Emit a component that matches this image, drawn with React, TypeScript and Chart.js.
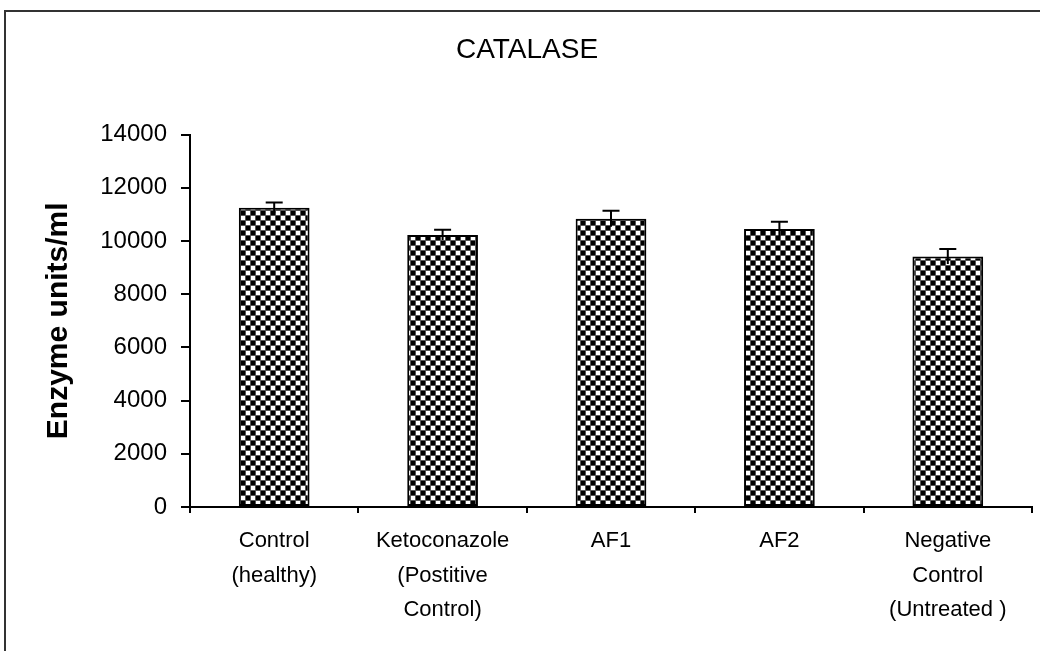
import React, { useEffect, useRef } from "react";
import { Chart, registerables } from "chart.js";

Chart.register(...registerables);

const categories: string[][] = [
  ["Control", "(healthy)"],
  ["Ketoconazole", "(Postitive", "Control)"],
  ["AF1"],
  ["AF2"],
  ["Negative", "Control", "(Untreated )"],
];
const catalaseValues: number[] = [11250, 10230, 10840, 10450, 9420];
const catalaseErrors: number[] = [200, 190, 300, 270, 280];
const yTicks: number[] = [0, 2000, 4000, 6000, 8000, 10000, 12000, 14000];

const FONT = "'Liberation Sans', Arial, sans-serif";

function makePattern(): CanvasPattern | string {
  const c = document.createElement("canvas");
  c.width = 10;
  c.height = 10;
  const g = c.getContext("2d");
  if (!g) return "#777";
  g.fillStyle = "#555";
  g.fillRect(0, 0, 10, 10);
  g.fillStyle = "#000";
  g.fillRect(1, 1, 4, 4);
  g.fillRect(6, 6, 4, 4);
  g.fillStyle = "#fff";
  g.fillRect(6, 1, 4, 4);
  g.fillRect(1, 6, 4, 4);
  const ctx = document.createElement("canvas").getContext("2d");
  const p = ctx ? ctx.createPattern(c, "repeat") : null;
  return p || "#777";
}

const errorBarPlugin = {
  id: "errorBars",
  afterDatasetsDraw(chart: any) {
    const { ctx } = chart;
    const meta = chart.getDatasetMeta(0);
    const yScale = chart.scales.y;
    ctx.save();
    ctx.strokeStyle = "#000";
    ctx.lineWidth = 2;
    meta.data.forEach((bar: any, i: number) => {
      const v = catalaseValues[i];
      const e = catalaseErrors[i];
      const yTop = yScale.getPixelForValue(v + e);
      const yBot = yScale.getPixelForValue(v - e);
      const x = bar.x;
      ctx.beginPath();
      ctx.moveTo(x, yBot);
      ctx.lineTo(x, yTop);
      ctx.moveTo(x - 8.5, yTop);
      ctx.lineTo(x + 8.5, yTop);
      ctx.stroke();
    });
    ctx.restore();
  },
};

const framePlugin = {
  id: "frame",
  afterDraw(chart: any) {
    const { ctx, width, height } = chart;
    ctx.save();
    ctx.strokeStyle = "#333";
    ctx.lineWidth = 2;
    ctx.beginPath();
    ctx.moveTo(5, height);
    ctx.lineTo(5, 11);
    ctx.lineTo(width, 11);
    ctx.stroke();
    ctx.restore();
  },
};

export default function App() {
  const ref = useRef<HTMLCanvasElement | null>(null);

  useEffect(() => {
    if (!ref.current) return;
    const pattern = makePattern();
    const chart = new Chart(ref.current, {
      type: "bar",
      data: {
        labels: categories,
        datasets: [
          {
            label: "Catalase",
            data: catalaseValues,
            backgroundColor: pattern as any,
            borderColor: "#000",
            borderWidth: 2,
            borderSkipped: false,
            barPercentage: 0.42,
            categoryPercentage: 1,
          },
        ],
      },
      options: {
        responsive: false,
        animation: false,
        layout: { padding: { left: 22, right: 8, top: 0, bottom: 0 } },
        plugins: {
          legend: { display: false },
          tooltip: { enabled: false },
          title: {
            display: true,
            text: "CATALASE",
            color: "#000",
            font: { family: FONT, size: 28, weight: "normal", lineHeight: 1.2 },
            padding: { top: 33, bottom: 68 },
          },
        },
        scales: {
          x: {
            grid: {
              display: true,
              drawOnChartArea: false,
              drawTicks: true,
              tickLength: 6,
              color: "#000",
              lineWidth: 2,
              offset: true,
            },
            border: { display: true, color: "#000", width: 2 },
            ticks: {
              color: "#000",
              font: { family: FONT, size: 22, lineHeight: 1.57 },
              padding: 11,
              maxRotation: 0,
              autoSkip: false,
            },
            afterFit(scale: any) {
              scale.height = 144;
            },
          },
          y: {
            min: 0,
            max: 14000,
            afterBuildTicks(scale: any) {
              scale.ticks = yTicks.map((v) => ({ value: v }));
            },
            grid: {
              display: true,
              drawOnChartArea: false,
              drawTicks: true,
              tickLength: 9,
              color: "#000",
              lineWidth: 2,
            },
            border: { display: true, color: "#000", width: 2 },
            ticks: {
              color: "#000",
              font: { family: FONT, size: 24 },
              padding: 14,
              callback: (v: any) => String(v),
            },
            title: {
              display: true,
              text: "Enzyme units/ml",
              color: "#000",
              font: { family: FONT, size: 30, weight: "bold", lineHeight: 1.2 },
              padding: { top: 19, bottom: 0 },
            },
            afterFit(scale: any) {
              scale.width = 168;
            },
          },
        },
      },
      plugins: [errorBarPlugin, framePlugin],
    });
    return () => chart.destroy();
  }, []);

  return (
    <div style={{ position: "absolute", left: 0, top: 0, width: 1040, height: 651, background: "#fff" }}>
      <canvas ref={ref} width={1040} height={651} style={{ display: "block" }} />
    </div>
  );
}
